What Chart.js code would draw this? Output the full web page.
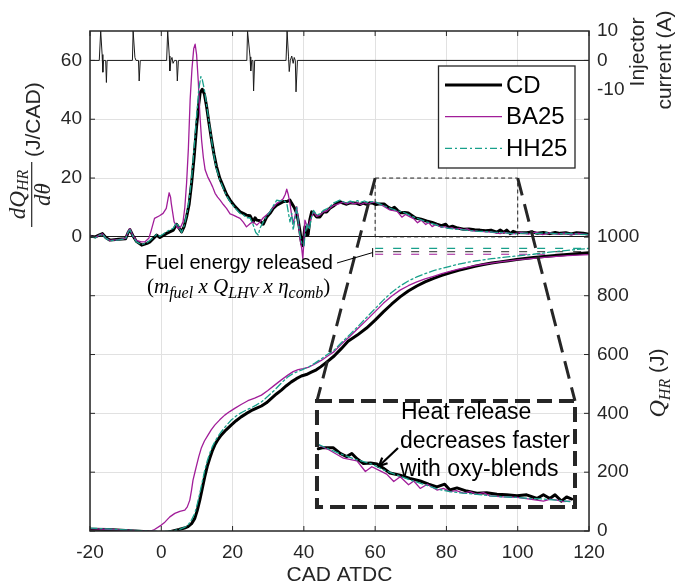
<!DOCTYPE html>
<html>
<head>
<meta charset="utf-8">
<script src="https://cdn.jsdelivr.net/npm/chart.js@4.4.1/dist/chart.umd.min.js"></script>
<style>
html,body{margin:0;padding:0;background:#ffffff;}
#c{display:block;}
</style>
</head>
<body>
<canvas id="c" width="676" height="586"></canvas>
<script>
// ================= DATA =================
const seriesNames = ['CD', 'BA25', 'HH25'];

// Injector current (A) vs CAD
const injCad = [-20,-17.4,-17.0,-16.6,-16.4,-16.2,-15.6,-15.4,-15.2,-8.1,-7.9,-7.4,-7.1,-6.4,-6.2,-5.9,1.5,1.8,2.25,2.4,2.7,3.0,3.3,3.7,4.3,4.5,4.8,24.0,24.2,24.9,25.1,25.4,25.7,25.9,26.2,35.0,35.3,35.7,35.9,36.2,36.6,37.0,37.3,37.6,37.8,38.2,120];
const injAmp = [0,0,10,2,-4,0,0,-7.5,0,0,10,1,0,0,-7,0,0,10,1.5,-3.6,0,1,-1,0,0,-7,0,0,10,1.2,-3.6,0,0,-10.4,0,0,10,1.2,-3.8,0,1.5,-1,1,0,-10.7,0,0];

// Heat release rate dQ/dtheta (J/CAD)
const dqCD_cad = [-20,-18.5,-17.5,-16.5,-15.5,-14.4,-12,-10,-9.3,-8.8,-8,-7,-5.5,-4,-3.2,-1.3,-0.4,1.5,3.4,4.3,5,5.7,6.4,7.1,7.8,8.5,9.2,9.9,10.5,10.9,11.5,12.1,12.7,13.4,14.1,14.8,15.5,16.4,17.4,18.3,19.3,20.7,22.1,23,23.9,24.9,25.8,26.3,26.8,27.7,28.6,29.6,30.5,31.4,32.4,33.3,34.2,35.2,36.1,36.6,37.3,38,38.5,38.9,39.4,39.7,40.3,40.8,41.2,41.7,42.2,42.7,43.6,44.5,45.5,46.4,47.3,48.3,49.2,50.1,51,52,53,54.8,55.7,56.6,57.6,58.5,59.5,60.2,61,62.5,63.6,64.6,65.4,66.2,67.2,68.3,69.3,70.3,71.3,72.9,74.4,76,77.3,78.6,79.8,80.6,81.7,83.2,84.8,86.3,87.9,89.4,91,92.5,94.1,95.1,96.1,96.9,97.9,98.7,99.5,102.5,104,105.5,107.2,109,110.5,111.9,113.5,115,116.5,118.4,120];
const dqCD = [0.2,0,0.6,1.1,-0.3,-1.1,-0.8,-0.6,1.5,2.5,0.5,-1.5,-2.8,-2.2,-1.7,0.6,-0.2,1.2,2.3,4.3,3,1.7,3.5,6.8,11,18.2,27,37.6,45,49,50.2,48.5,44.4,38.5,33,28,23.9,20,17.1,14.5,12.5,10.3,8.5,8,7.4,7.2,5.1,6.5,5.7,5.5,4.3,6.8,8,9.7,10.8,11.4,12,12,12.5,11.4,10,8,5,2,-2.5,-3,3.4,0.6,0.8,6,8.5,8,6.8,6.8,8.5,8.5,9.7,10.5,11.4,12,11.5,11.1,11.6,11.4,11,11.5,11.1,11.6,11.4,11,11.2,11.2,10.1,9.5,10.1,9.1,8.2,8.3,8.1,7.3,6.4,6,5.4,4.9,4.3,3.8,4.3,3.2,3.6,3,2.6,2.7,2.4,2.3,2.1,2.3,1.6,2.3,1.6,2.3,1.1,1.9,1.5,1.4,1.7,1.2,1.5,1.1,1.5,1.2,1.4,1,1.4,1.2,0.9];

const dqBA_cad = [-20,-18.5,-17.5,-16.5,-15.5,-14.4,-12,-10,-9.3,-8.8,-8,-7,-5.6,-4.5,-3.5,-2.8,-1.9,-0.5,0.5,1.4,1.9,2.2,2.6,2.8,3.6,4.7,5.5,6.1,6.6,7.1,7.6,8.1,8.6,9.1,9.5,9.9,10.4,10.8,11.3,11.8,12.3,13,13.7,14.4,15.1,15.8,16.5,17.4,18.3,19.3,20.2,21.2,22.1,23,23.9,24.9,25.8,26.8,27.7,28.6,29.6,30.5,31.4,32.4,33.3,34.2,34.8,35.2,35.6,36.1,36.5,37,37.5,38,38.5,38.9,39.4,39.7,40,40.3,40.8,41.2,41.9,42.7,43.6,44.5,45.5,46.4,47.3,48.3,49.2,50.1,51,52,53,54,55,56,57,58,59,60.2,61.9,64.1,66.2,67.5,68.5,69.8,70.8,71.9,72.9,74.2,75,76,77.1,78.6,79.6,80.6,81.6,82.7,83.7,84.8,85.8,86.8,88.9,91,93,95.1,96.2,97.2,98.2,99.2,101,103,105,107,109,111,113,115,117,120];
const dqBA = [0.3,-0.2,0.5,1.0,-0.5,-1.2,-0.9,-0.5,1.8,2.8,0.5,-1.2,-1.7,-1.6,-0.5,2.3,6.3,7.2,8,9.7,13,15,13.5,11.4,5.1,2.9,3.5,5.1,10,18.3,30,46.7,57,64,65.5,62,52.4,42,33,27,22.8,20.5,18.8,17,14.8,13.5,12.5,11,9.7,7.8,7.4,6.8,6.3,5,3.4,4.5,5.1,4,5.1,6.5,7.5,8.5,10,11.4,12,13,14.5,16.2,14.5,11.4,8,4.6,7,10.3,5,-0.5,-4,-7.3,-2,5.7,4,3.4,6,8.5,7,7.4,8.5,8.8,9.7,10.7,11,11.4,11.8,11.2,11.7,11.2,11.6,11,11.6,11.1,11.7,11.7,10.75,9.2,8.7,6.7,7.6,6.8,6.2,4.8,5.7,4.2,4.9,3.5,4.3,3.2,3.5,2.9,3.1,2.6,2.9,2.4,2.7,2.1,1.9,1.8,1.5,1.1,1.5,1.3,1,1.1,1.5,0.9,1.6,0.8,1.4,0.9,1.3,0.8,1.2,0.7];

const dqHH_cad = [-20,-18.5,-17.5,-16.5,-15.5,-14.4,-12,-10,-9.3,-8.8,-8,-7,-5.5,-4,-3.2,-1.3,-0.4,1.5,3.4,4.3,5,5.7,6.4,7.1,7.8,8.5,9.2,9.9,10.5,11.1,11.5,12.1,12.7,13.4,14.1,14.8,15.5,16.4,17.4,18.3,19.3,20.7,22.1,23,23.9,24.9,25.8,26.5,27.2,27.7,28.6,29.6,30.5,31.4,32.4,33.3,34.2,35.2,36.1,36.6,37,37.5,38,38.5,38.9,39.4,40,40.5,41,41.5,42.2,42.7,43.6,44.5,45.5,46.4,47.3,48.3,49.2,50.1,51,52,53,54,55,56,57,58,59,60.2,61.9,64.1,66.2,68.3,70.3,72.5,74.4,76.5,78.6,80.6,82.7,84.8,86.8,88.9,91,93,95.1,97.2,99.2,102,105,108,111,114,117,120];
const dqHH = [0.3,-0.3,0.5,0.9,-0.6,-1.3,-1,-0.6,1.6,2.4,0.3,-1.7,-2.6,-2,-1.2,0.8,0.2,1.8,3,4.8,3.2,1.5,3.8,7.5,12.5,20,30,41,50,54.5,53.5,50,45,39,33,27.5,23,19.5,16.5,14,12,9.8,8,7.5,6.5,6.5,4,1.5,0.6,3,5,7.2,8.5,10.5,12.5,12.2,12.5,11.5,5.1,8,2.3,6,10,4,0.6,-2,-3,2,4.5,2.5,7,9,7.5,7.8,9,9.5,10.3,11.5,12,12.5,12,11.5,12.2,11.8,12.3,11.8,12.2,11.7,12,11.8,10.9,9.8,8.9,8.2,7,6,5.1,4.3,3.4,2.9,2.6,2.4,2.1,1.9,1.8,1.6,1.5,1.3,1,1.3,1.1,1.4,1,1.2,0.9,0.8];

// Cumulative heat release Q_HR (J)
const qCD_cad = [-20,-15,-10,-5,0,2,3,5,6.5,7.5,8.5,9.4,10.1,10.8,11.5,12.2,12.9,13.6,14.3,15,15.9,16.8,18.2,19.6,21,22.4,23.8,25.2,26.6,28.1,29.5,30.9,32.3,33.7,35.1,36.5,37.9,39.3,40.7,42.1,43.5,44.7,46.6,48.5,50.5,52.4,55,57.6,60,62.3,64.6,67,69.3,71.7,74,76.4,78.7,81,83.4,85.7,88,90.4,92.7,95,97.4,99.7,104.4,109,113.8,120];
const qCD = [6,5,2,-2,-6,-4,-1,5,10,15,25,43,70,105,145,185,220,247,272,292,311,326,344,360,375,388,399,409,417,425,436,451,466,479,494,507,518,527,532,540,548,558,576,595,620,645,666,690,717,745,771,796,816,833,847,859,869,878,886,893,900,906,911,915,919,923,930,935,940,946];

const qBA_cad = [-20,-15,-10,-5,-3.2,-1.9,0,1,2.4,3.8,5.2,6.6,7.3,8,8.5,8.9,9.4,9.8,10.5,11.2,12.1,13.1,14,15,16.4,17.8,19.2,20.6,22.4,24.3,26.2,28.1,29.9,31.8,33.6,35.5,37,38.4,39.8,41.2,43,44.9,46.8,48.5,50.5,53,55.3,57.6,60,62.3,64.6,67,69.3,71.7,74,76.4,78.7,81,83.4,85.7,88,90.4,92.7,95,99.7,104.4,109,114,120];
const qBA = [8,6,3,0,-1,5,20,30,48,60,67,71,82,105,140,173,198,218,252,281,306,326,344,360,378,394,406,417,430,443,452,462,478,496,513,530,542,549,552,556,567,580,596,610,635,663,690,717,746,774,798,819,834,847,857,866,875,883,890,896,902,907,911,915,922,927,932,936,940];

const qHH_cad = [-20,-15,-10,-5,0,3,5,6.5,7.5,8.5,9.4,10.1,10.8,11.5,12.2,12.9,13.6,14.3,15,15.9,16.8,18.2,19.6,21,22.4,23.8,25.2,26.6,28.1,29.9,31.8,33.6,35.5,37.4,39.3,41.2,43,44.9,46.8,48.5,50.5,53,55.3,57.6,60,62.3,64.6,67,69.3,71.7,74,76.4,78.7,81,83.4,85.7,88,90.4,92.7,95,99.7,104.4,109,114,120];
const qHH = [10,7,4,1,-2,0,5,12,20,38,60,92,128,168,207,238,264,286,303,322,337,358,377,391,402,411,419,428,439,458,479,502,524,538,547,557,570,585,602,615,640,669,697,726,756,785,811,833,850,864,875,885,893,900,907,913,918,922,926,929,935,941,948,954,961];

// Fuel energy released (m_fuel x Q_LHV x eta_comb), J, drawn over CAD 60..120
const fuelEnergy = [950, 941, 961];
const fuelCadRange = [60, 120];

// Ticks
const xTicks = [-20, 0, 20, 40, 60, 80, 100, 120];
const dqTicks = [0, 20, 40, 60];
const qTicks = [0, 200, 400, 600, 800, 1000];
const currentTicks = [10, 0, -10];

// Zoomed window shown in the inset (CAD and J/CAD)
const zoomCad = [60, 100];
const zoomDq = [0, 20];

// ================= CHART =================
const SANS = '"Liberation Sans", Arial, Helvetica, sans-serif';
const SERIF = '"Liberation Serif", "Times New Roman", serif';
Chart.defaults.font.family = SANS;
Chart.defaults.color = '#262626';

const COL = ['#000000', '#a11d99', '#18a08b'];
const WID = [3, 1.3, 1.3];
const DASH = [[], [], [7, 3, 2, 3]];
const ORD = [3, 2, 1];
const AXC = '#262626';
const GRID = '#e1e1e1';

function pts(xs, ys) { return xs.map((x, i) => ({x: x, y: ys[i]})); }
function ptsIn(xs, ys, lo, hi) { return pts(xs, ys).filter(p => p.x >= lo && p.x <= hi); }

const dqSets = [[dqCD_cad, dqCD], [dqBA_cad, dqBA], [dqHH_cad, dqHH]];
const qSets = [[qCD_cad, qCD], [qBA_cad, qBA], [qHH_cad, qHH]];

const datasets = [];
datasets.push({label: 'inj', data: pts(injCad, injAmp), xAxisID: 'x', yAxisID: 'yI',
  borderColor: '#1a1a1a', borderWidth: 1, pointRadius: 0, order: 0});
for (let i = 0; i < 3; i++) {
  const base = {borderColor: COL[i], borderWidth: WID[i], borderDash: DASH[i], pointRadius: 0,
    order: ORD[i], borderJoinStyle: 'round', borderCapStyle: 'round'};
  datasets.push(Object.assign({label: seriesNames[i], data: pts(dqSets[i][0], dqSets[i][1]), xAxisID: 'x', yAxisID: 'yL'}, base));
  datasets.push(Object.assign({label: seriesNames[i] + ' Q', data: pts(qSets[i][0], qSets[i][1]), xAxisID: 'x', yAxisID: 'yR'}, base));
  datasets.push(Object.assign({label: seriesNames[i] + ' inset', data: ptsIn(dqSets[i][0], dqSets[i][1], zoomCad[0], zoomCad[1]), xAxisID: 'xIn', yAxisID: 'yIn'}, base));
  datasets.push({label: seriesNames[i] + ' fuel', data: fuelCadRange.map(c => ({x: c, y: fuelEnergy[i]})), xAxisID: 'x', yAxisID: 'yR',
    borderColor: i === 0 ? '#555555' : COL[i], borderWidth: 1.2, borderDash: [8, 10], pointRadius: 0, order: 5});
}

function line(ctx, x0, y0, x1, y1) { ctx.beginPath(); ctx.moveTo(x0, y0); ctx.lineTo(x1, y1); ctx.stroke(); }

// draw a run of [text, font, dy] segments from x at baseline y
function runs(ctx, x, y, segs) {
  for (const s of segs) {
    ctx.font = s[1];
    ctx.fillText(s[0], x, y + (s[2] || 0));
    x += ctx.measureText(s[0]).width;
  }
  return x;
}
function runsWidth(ctx, segs) {
  let w = 0;
  for (const s of segs) { ctx.font = s[1]; w += ctx.measureText(s[0]).width; }
  return w;
}

const overlay = {
  id: 'overlay',
  afterDatasetsDraw(chart) {
    const ctx = chart.ctx, s = chart.scales, a = chart.chartArea;
    const X = s.x, YL = s.yL, YR = s.yR, YI = s.yI, XI = s.xIn, YN = s.yIn;
    ctx.save();
    ctx.lineCap = 'butt';

    // dotted zoom window
    const rx0 = X.getPixelForValue(zoomCad[0]), rx1 = X.getPixelForValue(zoomCad[1]);
    const ry0 = YL.getPixelForValue(zoomDq[0]), ry1 = YL.getPixelForValue(zoomDq[1]);
    ctx.strokeStyle = '#222222'; ctx.lineWidth = 1; ctx.setLineDash([4, 3]);
    ctx.strokeRect(rx0, ry1, rx1 - rx0, ry0 - ry1);

    // inset box + connectors
    const bx0 = XI.getPixelForValue(zoomCad[0]), bx1 = XI.getPixelForValue(zoomCad[1]);
    const by0 = YN.getPixelForValue(zoomDq[0]), by1 = YN.getPixelForValue(zoomDq[1]);
    ctx.strokeStyle = AXC; ctx.lineWidth = 3; ctx.setLineDash([18, 9]);
    line(ctx, rx0, ry1, bx0, by1);
    line(ctx, rx1, ry1, bx1, by1);
    ctx.lineWidth = 4; ctx.setLineDash([15, 7]);
    ctx.strokeRect(bx0, by1, bx1 - bx0, by0 - by1);
    ctx.setLineDash([]);

    // Fuel energy annotation
    ctx.fillStyle = '#000'; ctx.strokeStyle = '#000';
    ctx.textAlign = 'left'; ctx.textBaseline = 'middle';
    ctx.font = '20px ' + SANS;
    ctx.fillText('Fuel energy released', 145, 263);
    const tipX = X.getPixelForValue(fuelCadRange[0]) - 2.5;
    const tipY = YR.getPixelForValue(fuelEnergy[0]) + 1;
    ctx.lineWidth = 1;
    line(ctx, 337, 263, tipX, tipY);
    line(ctx, tipX, tipY - 4.5, tipX, tipY + 4.5);
    ctx.textBaseline = 'alphabetic';
    const FM = 'italic 21px ' + SERIF, FU = '21px ' + SERIF, FS = 'italic 16px ' + SERIF;
    runs(ctx, 147, 292.5, [['(', FU], ['m', FM], ['fuel', FS, 5], [' x ', FM], ['Q', FM], ['LHV', FS, 5],
      [' x ', FM], ['\u03B7', FM], ['comb', FS, 5], [')', FU]]);

    // Inset annotation
    ctx.font = '23px ' + SANS; ctx.textBaseline = 'middle';
    ctx.fillText('Heat release', 401, 413);
    ctx.fillText('decreases faster', 400, 441.7);
    ctx.fillText('with oxy-blends', 400, 470);
    ctx.lineWidth = 2.2;
    const ax0 = 398, ay0 = 448, ax1 = 379, ay1 = 466;
    line(ctx, ax0, ay0, ax1, ay1);
    const ang = Math.atan2(ay1 - ay0, ax1 - ax0);
    ctx.beginPath();
    ctx.moveTo(ax1 - 9 * Math.cos(ang - 0.45), ay1 - 9 * Math.sin(ang - 0.45));
    ctx.lineTo(ax1, ay1);
    ctx.lineTo(ax1 - 9 * Math.cos(ang + 0.45), ay1 - 9 * Math.sin(ang + 0.45));
    ctx.stroke();

    // Legend
    const lx = 438.5, ly = 66, lw = 136.5, lh = 102;
    ctx.fillStyle = '#ffffff'; ctx.fillRect(lx, ly, lw, lh);
    ctx.strokeStyle = AXC; ctx.lineWidth = 1.3; ctx.strokeRect(lx, ly, lw, lh);
    const rows = [85, 116.7, 148.3];
    for (let i = 0; i < 3; i++) {
      ctx.strokeStyle = COL[i]; ctx.lineWidth = WID[i]; ctx.setLineDash(DASH[i]);
      line(ctx, 445, rows[i], 502, rows[i]);
      ctx.setLineDash([]);
      ctx.fillStyle = '#000'; ctx.font = '24px ' + SANS; ctx.textBaseline = 'middle';
      ctx.fillText(seriesNames[i], 506, rows[i] + 1);
    }

    // Frame and inward ticks
    ctx.strokeStyle = AXC; ctx.lineWidth = 1.5;
    ctx.strokeRect(a.left, a.top, a.right - a.left, a.bottom - a.top);
    ctx.lineWidth = 1;
    const TL = 5;
    xTicks.forEach(v => { const p = X.getPixelForValue(v); line(ctx, p, a.bottom, p, a.bottom - TL); line(ctx, p, a.top, p, a.top + TL); });
    const yPix = dqTicks.map(v => YL.getPixelForValue(v)).concat(qTicks.map(v => YR.getPixelForValue(v)));
    yPix.forEach(p => { line(ctx, a.left, p, a.left + TL, p); line(ctx, a.right, p, a.right - TL, p); });

    // Injector current tick labels (right, top)
    ctx.fillStyle = AXC; ctx.font = '19px ' + SANS; ctx.textAlign = 'left'; ctx.textBaseline = 'middle';
    currentTicks.forEach(v => ctx.fillText(String(v), a.right + 8, YI.getPixelForValue(v)));

    // Right titles
    ctx.save();
    ctx.translate(638, 52); ctx.rotate(-Math.PI / 2);
    ctx.textAlign = 'center'; ctx.textBaseline = 'middle'; ctx.font = '21px ' + SANS;
    ctx.fillText('Injector', 0, 0);
    ctx.restore();
    ctx.save();
    ctx.translate(665, 60); ctx.rotate(-Math.PI / 2);
    ctx.textAlign = 'center'; ctx.textBaseline = 'middle'; ctx.font = '21px ' + SANS;
    ctx.fillText('current (A)', 0, 0);
    ctx.restore();

    ctx.save();
    const qSeg = [['Q', 'italic 24px ' + SERIF, 0], ['HR', 'italic 16px ' + SERIF, 5], [' (J)', '21px ' + SANS, -1]];
    const qw = runsWidth(ctx, qSeg);
    ctx.translate(665, 383 + qw / 2); ctx.rotate(-Math.PI / 2);
    ctx.textAlign = 'left'; ctx.textBaseline = 'alphabetic';
    runs(ctx, 0, 0, qSeg);
    ctx.restore();

    // Left title: dQ_HR/dtheta (J/CAD)
    ctx.save();
    ctx.translate(31.7, 227); ctx.rotate(-Math.PI / 2);
    ctx.textAlign = 'left'; ctx.textBaseline = 'alphabetic';
    const FL = 65;
    ctx.strokeStyle = AXC; ctx.lineWidth = 1.2;
    line(ctx, 0, 0, FL, 0);
    const num = [['dQ', 'italic 23px ' + SERIF, 0], ['HR', 'italic 16px ' + SERIF, 3.5]];
    const nw = runsWidth(ctx, num);
    runs(ctx, (FL - nw) / 2, -7, num);
    ctx.font = 'italic 23px ' + SERIF;
    const dw = ctx.measureText('d\u03B8').width;
    ctx.fillText('d\u03B8', (FL - dw) / 2, 18);
    ctx.font = '21px ' + SANS; ctx.textBaseline = 'middle';
    ctx.fillText('(J/CAD)', 70, 2.5);
    ctx.restore();

    ctx.restore();
  }
};

new Chart(document.getElementById('c'), {
  type: 'line',
  data: {datasets: datasets},
  options: {
    responsive: false, animation: false, devicePixelRatio: 1,
    parsing: true, normalized: true,
    layout: {padding: {top: 31, left: 0, right: 0, bottom: 0}},
    plugins: {legend: {display: false}, tooltip: {enabled: false}},
    elements: {line: {tension: 0}, point: {radius: 0}},
    scales: {
      x: {
        type: 'linear', position: 'bottom', min: -20, max: 120,
        afterBuildTicks: sc => { sc.ticks = xTicks.map(v => ({value: v})); },
        ticks: {font: {size: 19}, color: AXC, padding: 10, maxRotation: 0, callback: v => String(v)},
        grid: {color: GRID, drawTicks: false}, border: {display: false},
        title: {display: true, text: 'CAD ATDC', font: {size: 21, lineHeight: 1}, color: AXC, padding: {top: 0, bottom: 0}},
        afterFit: sc => { sc.height = 55; }
      },
      yL: {
        type: 'linear', position: 'left', min: -100, max: 70,
        afterBuildTicks: sc => { sc.ticks = dqTicks.map(v => ({value: v})); },
        ticks: {font: {size: 19}, color: AXC, padding: 8, callback: v => String(v)},
        grid: {color: c => (c.tick && c.tick.value === 0) ? '#1a1a1a' : GRID, drawTicks: false}, border: {display: false},
        afterFit: sc => { sc.width = 90; }
      },
      yR: {
        type: 'linear', position: 'right', min: 0, max: 1700,
        afterBuildTicks: sc => { sc.ticks = qTicks.map(v => ({value: v})); },
        ticks: {font: {size: 19}, color: AXC, padding: 8, callback: v => String(v)},
        grid: {color: c => (c.tick && (c.tick.value === 0 || c.tick.value === 1000)) ? 'rgba(0,0,0,0)' : GRID, drawTicks: false},
        border: {display: false},
        afterFit: sc => { sc.width = 87; }
      },
      yI: {type: 'linear', display: false, min: -160, max: 10},
      xIn: {type: 'linear', display: false, min: 24.81, max: 102.17},
      yIn: {type: 'linear', display: false, min: -4.53, max: 89.81}
    }
  },
  plugins: [overlay]
});
</script>
</body>
</html>
